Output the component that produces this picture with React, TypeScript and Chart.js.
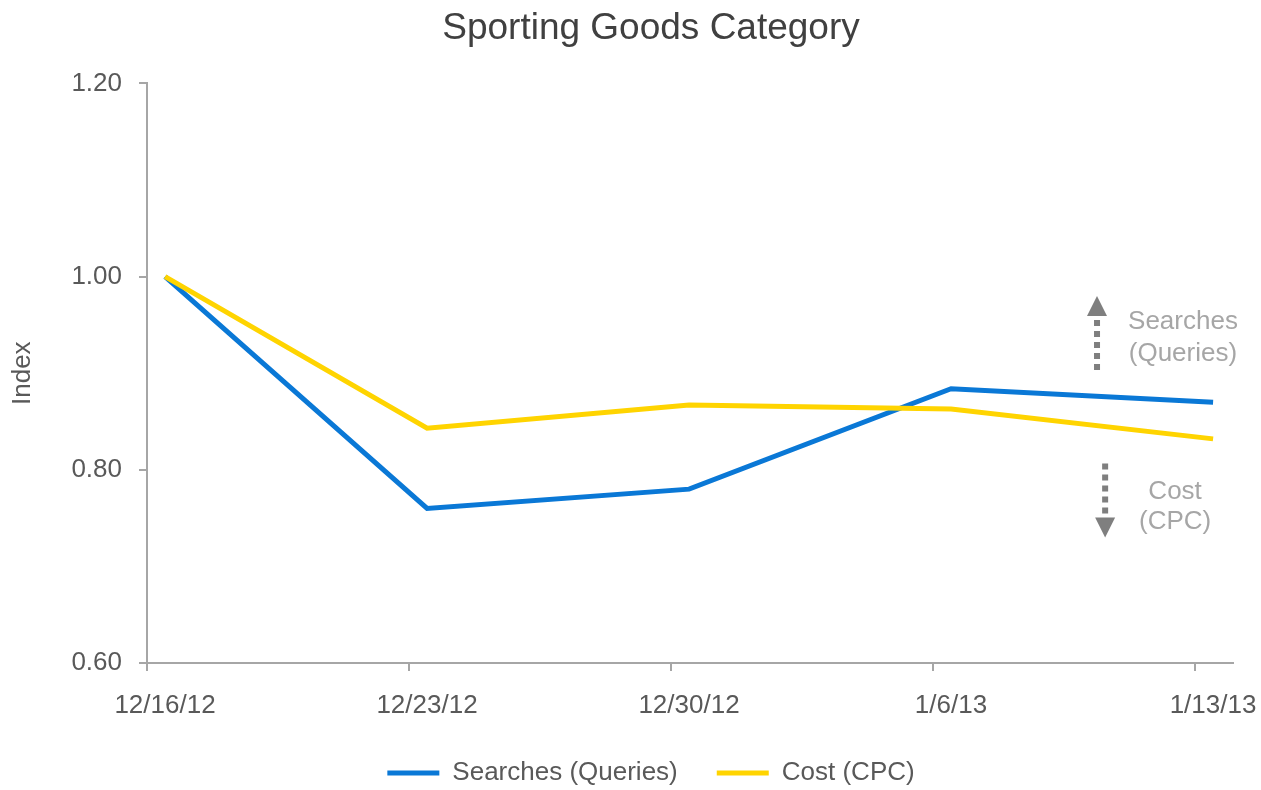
import React, { useEffect, useRef } from "react";
import { Chart, registerables } from "chart.js";

Chart.register(...registerables);

const categories = ["12/16/12", "12/23/12", "12/30/12", "1/6/13", "1/13/13"];
const searches = [1.0, 0.76, 0.78, 0.884, 0.87];
const cost = [1.0, 0.843, 0.867, 0.863, 0.832];
const yTicks = [0.6, 0.8, 1.0, 1.2];
const seriesNames = ["Searches (Queries)", "Cost (CPC)"];
const seriesColors = ["#0A78D6", "#FFD400"];

// annotation arrows (data units): x, tail y, tip y
const arrowXs = [3.557, 3.588];
const arrowTails = [0.9, 0.808];
const arrowTips = [0.98, 0.73];
// annotation texts (data units)
const noteTexts = ["Searches", "(Queries)", "Cost", "(CPC)"];
const noteXs = [3.885, 3.885, 3.855, 3.855];
const noteYs = [0.953, 0.92, 0.777, 0.746];

const X_OFFSET = 0.069;
const X_MAX = 4.076;

const FONT = "'Liberation Sans', Arial, Helvetica, sans-serif";
const AXIS_COLOR = "#a6a6a6";
const TEXT_COLOR = "#595959";

const annotationPlugin = {
  id: "sideNotes",
  afterDatasetsDraw(chart: any) {
    const { ctx } = chart;
    const xs = chart.scales.x;
    const ys = chart.scales.y;
    ctx.save();
    arrowXs.forEach((ax, i) => {
      const px = xs.getPixelForValue(ax);
      const tail = ys.getPixelForValue(arrowTails[i]);
      const tip = ys.getPixelForValue(arrowTips[i]);
      const dir = Math.sign(tip - tail);
      const headLen = 20;
      const base = tip - dir * headLen;
      ctx.strokeStyle = "#7f7f7f";
      ctx.lineWidth = 6;
      ctx.setLineDash([6, 5]);
      ctx.beginPath();
      ctx.moveTo(px, base - dir * 4);
      ctx.lineTo(px, tail);
      ctx.stroke();
      ctx.setLineDash([]);
      ctx.fillStyle = "#7f7f7f";
      ctx.beginPath();
      ctx.moveTo(px, tip);
      ctx.lineTo(px - 10, base);
      ctx.lineTo(px + 10, base);
      ctx.closePath();
      ctx.fill();
    });
    ctx.fillStyle = "#a6a6a6";
    ctx.font = `26px ${FONT}`;
    ctx.textAlign = "center";
    ctx.textBaseline = "middle";
    noteTexts.forEach((t, i) => {
      ctx.fillText(t, xs.getPixelForValue(noteXs[i]), ys.getPixelForValue(noteYs[i]));
    });
    ctx.restore();
  },
};

export default function App() {
  const ref = useRef<HTMLCanvasElement | null>(null);

  useEffect(() => {
    document.body.style.margin = "0";
    const canvas = ref.current;
    if (!canvas) return;
    Chart.defaults.font.family = FONT;

    const chart = new Chart(canvas, {
      type: "line",
      data: {
        datasets: [
          {
            label: seriesNames[0],
            data: searches.map((v, i) => ({ x: i, y: v })),
            borderColor: seriesColors[0],
            backgroundColor: seriesColors[0],
            borderWidth: 5,
            pointRadius: 0,
            tension: 0,
            order: 1,
          },
          {
            label: seriesNames[1],
            data: cost.map((v, i) => ({ x: i, y: v })),
            borderColor: seriesColors[1],
            backgroundColor: seriesColors[1],
            borderWidth: 5,
            pointRadius: 0,
            tension: 0,
            order: 0,
          },
        ],
      },
      options: {
        responsive: false,
        animation: false,
        layout: { padding: { left: 69, right: 28, top: 0, bottom: -6 } },
        plugins: {
          title: {
            display: true,
            text: "Sporting Goods Category",
            color: "#404040",
            font: { size: 37, weight: "normal" },
            padding: { top: 7, bottom: 32 },
          },
          legend: {
            position: "bottom",
            labels: {
              boxWidth: 52,
              boxHeight: 5,
              padding: 39,
              color: TEXT_COLOR,
              font: { size: 26 },
              sort: (a: any, b: any) => a.datasetIndex - b.datasetIndex,
              generateLabels: (c: any) =>
                Chart.defaults.plugins.legend.labels
                  .generateLabels(c)
                  .map((l: any) => ({ ...l, lineWidth: 0, fillStyle: l.strokeStyle })),
            },
          },
          tooltip: { enabled: false },
        },
        scales: {
          x: {
            type: "linear",
            min: -X_OFFSET,
            max: X_MAX,
            afterBuildTicks: (scale: any) => {
              scale.ticks = categories.map((_, i) => ({ value: i - X_OFFSET }));
            },
            afterFit: (scale: any) => {
              scale.height = 58;
            },
            ticks: {
              callback: (_v: any, idx: number) => categories[idx],
              labelOffset: 18,
              padding: 19,
              color: TEXT_COLOR,
              font: { size: 26 },
              autoSkip: false,
              maxRotation: 0,
            },
            grid: { drawOnChartArea: false, tickLength: 8, color: AXIS_COLOR, lineWidth: 2 },
            border: { color: AXIS_COLOR, width: 2 },
          },
          y: {
            type: "linear",
            min: 0.6,
            max: 1.2,
            afterBuildTicks: (scale: any) => {
              scale.ticks = yTicks.map((v) => ({ value: v }));
            },
            afterFit: (scale: any) => {
              scale.width = 78;
            },
            ticks: {
              callback: (v: any) => Number(v).toFixed(2),
              padding: 17,
              color: TEXT_COLOR,
              font: { size: 26 },
            },
            grid: { drawOnChartArea: false, tickLength: 8, color: AXIS_COLOR, lineWidth: 2 },
            border: { color: AXIS_COLOR, width: 2 },
            title: {
              display: true,
              text: "Index",
              color: TEXT_COLOR,
              font: { size: 26 },
              padding: { top: -61.6, bottom: 0 },
            },
          },
        },
      },
      plugins: [annotationPlugin],
    } as any);

    return () => chart.destroy();
  }, []);

  return (
    <div style={{ width: 1261, height: 790 }}>
      <canvas ref={ref} width={1261} height={790} style={{ display: "block" }} />
    </div>
  );
}
